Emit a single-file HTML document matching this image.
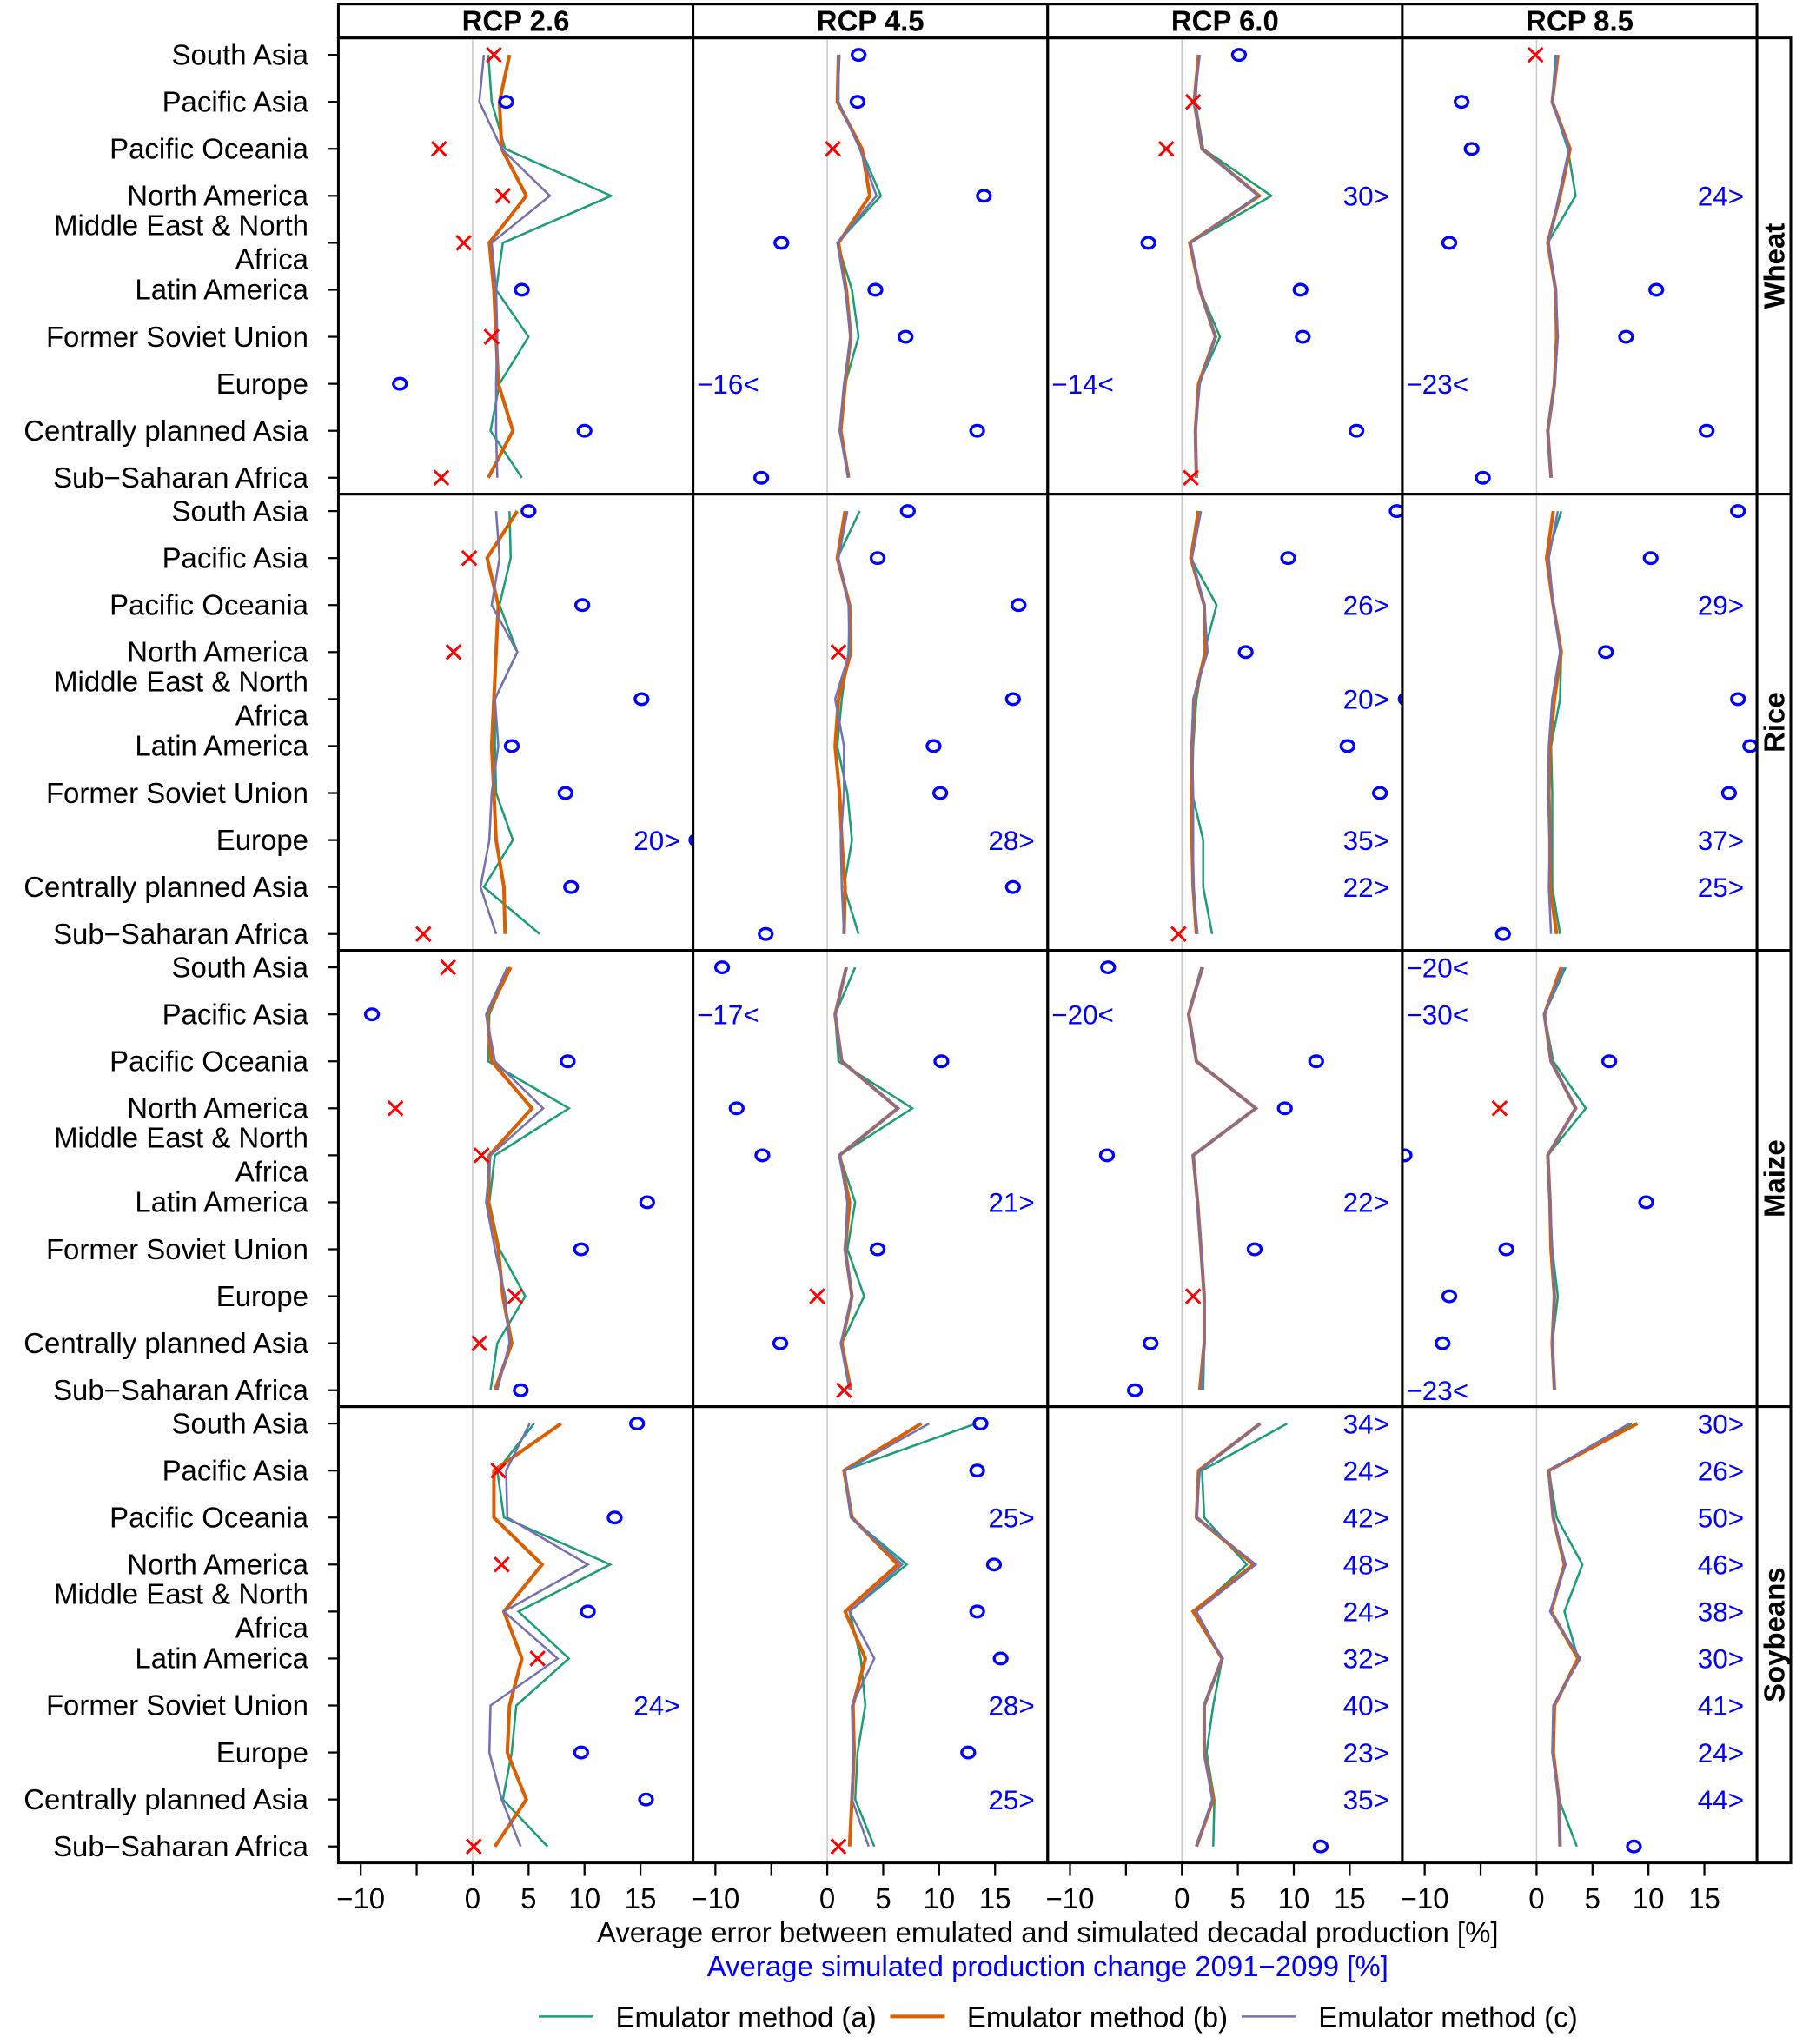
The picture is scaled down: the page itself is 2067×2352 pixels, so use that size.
<!DOCTYPE html>
<html><head><meta charset="utf-8">
<style>
html,body{margin:0;padding:0;background:#fff;}
svg{display:block;font-family:"Liberation Sans",Arial,sans-serif;}
</style></head>
<body>
<svg id="chart" xmlns="http://www.w3.org/2000/svg" width="2067" height="2352" viewBox="0 0 1380 1570">
<g id="root"></g>
</svg>
<script>
const categories = ["South Asia","Pacific Asia","Pacific Oceania","North America","Middle East & North Africa","Latin America","Former Soviet Union","Europe","Centrally planned Asia","Sub\u2212Saharan Africa"];
const crops = ["Wheat","Rice","Maize","Soybeans"];
const rcps = ["RCP 2.6","RCP 4.5","RCP 6.0","RCP 8.5"];
const xTicks = [-10,-5,0,5,10,15];
const xTickLabels = ["\u221210","","0","5","10","15"];

// seriesA/B/C[crop][rcp] = 10 values (error %)
const seriesA = [
 [[1.4,1.7,2.9,12.4,2.7,2.1,5,2.4,1.6,4.4],[1.1,0.9,3,4.8,0.9,2.2,2.8,1.6,1.2,1.9],[1.5,1.2,1.9,8,0.7,1.6,3.4,1.5,1.2,1.3],[1.7,1.4,2.8,3.5,1,1.7,1.9,1.6,1,1.3]],
 [[3.3,3.4,2.4,4,2,2,2.1,3.6,1,6],[2.9,0.9,2,1.9,1.3,0.9,1.8,2.2,1.5,2.8],[1.4,0.8,3.1,2,1.3,1,0.9,1.9,1.9,2.7],[2.2,0.9,1.5,2.2,2.1,1.3,1.4,1.4,1.4,2.1]],
 [[3.3,1.5,1.4,8.6,2,1.5,2.4,4.7,2.2,1.6],[2.5,0.7,1,7.6,1.1,2.5,1.8,3.3,1.3,2.1],[1.9,0.6,1.3,6.6,1,1.4,1.7,2,2,1.9],[2.6,0.7,1.5,4.4,1,1.2,1.4,1.9,1.4,1.6]],
 [[5.5,2.2,2.8,12.3,4.1,8.6,3.9,3.5,2.7,6.7],[13.3,1.5,2.1,7.1,2,3,3.4,2.7,2.5,4.2],[9.4,1.8,2,5.8,1.2,3.6,2.8,2.2,2.9,2.8],[8.5,1.1,1.8,4.1,2.5,3.7,1.6,1.5,2,3.6]]
];
const seriesB = [
 [[3.3,2.4,2.6,4.8,1.5,1.9,2.1,2.3,3.6,1.4],[1,0.9,3.1,3.8,1,1.7,2.1,1.6,1.2,1.9],[1.5,1.1,1.8,6.9,0.7,1.6,3,1.5,1.2,1.3],[1.9,1.4,3,2.1,1,1.7,1.8,1.6,1,1.3]],
 [[4,1.3,2.3,2.1,1.9,1.7,1.9,2.1,2.8,2.9],[1.6,0.9,2,2.1,1,0.7,1.1,1.3,1.6,1.5],[1.5,0.8,2,2.1,1.1,0.9,0.9,0.9,1,1.3],[1.5,0.9,1.5,2.2,1.6,1.2,1.1,1.2,1.2,1.8]],
 [[3.4,1.3,1.7,5.3,1.5,1.4,2.3,2.7,3.5,2],[1.7,0.7,1.3,6.3,1.1,2,1.6,2.2,1.3,2.1],[1.8,0.6,1.3,6.6,1,1.4,1.7,2,2,1.6],[2.2,0.7,1.3,3.5,1,1.2,1.3,1.6,1.4,1.6]],
 [[7.9,1.9,1.9,6.2,2.8,4.4,3.3,3.1,4.8,2],[8.4,1.5,2.2,6.3,1.6,3.4,2.3,2.4,2.2,2],[7,1.5,1.3,6.4,1,3.6,2,2,2.8,1.3],[9,1.1,1.5,2.5,1.3,3.7,1.6,1.5,2,2.1]]
];
const seriesC = [
 [[1,0.6,2.6,6.9,1.7,2.1,2.2,2.1,2.1,2.2],[1,1,2.9,4.4,0.9,1.6,2.1,1.5,1.1,1.9],[1.6,1.1,1.8,6.8,0.8,1.6,3,1.6,1.2,1.3],[1.8,1.4,2.9,2,1.1,1.7,1.9,1.6,1,1.3]],
 [[2.1,2.4,1.7,4,2,2.3,1.7,1.5,0.7,2.1],[1.8,1,1.9,2,0.7,1.5,1.5,1.2,1.3,1.5],[1.7,0.9,2,2.3,1,0.9,1,1,1,1.4],[1.9,1.1,1.5,2.1,1.4,1.1,1,1.2,1.1,1.3]],
 [[3.1,1.2,2,6.3,1.6,1.2,2,2.9,3.3,2.2],[1.7,0.7,1.3,6.3,1.1,1.8,1.6,2.2,1.2,2],[1.8,0.6,1.3,6.6,1,1.4,1.7,2,2,1.7],[2.4,0.7,1.3,3.5,1,1.2,1.4,1.6,1.4,1.6]],
 [[5.1,3,3.1,10.3,2.8,7.6,1.6,1.5,2.6,4.3],[9.1,1.6,2.1,6.7,2,4.2,2.2,2.3,2.2,3.7],[7,1.6,1.3,6.6,1.3,3.6,2,2,2.7,1.3],[8.3,1.1,1.5,2.6,1.2,3.9,1.5,1.4,2,2.1]]
];
// marker values (simulated production change) and type: o=circle, x=cross, gt=off-scale right, lt=off-scale left
const markerValues = [
 [[1.9,3,-3,2.7,-0.8,4.4,1.7,-6.5,10,-2.8],[2.8,2.7,0.5,14,-4.1,4.3,7,-16,13.4,-5.9],[5.1,1,-1.4,30,-3,10.6,10.8,-14,15.6,0.8],[-0.1,-6.7,-5.8,24,-7.8,10.7,8,-23,15.2,-4.8]],
 [[5,-0.3,9.8,-1.7,15.1,3.5,8.3,20,8.8,-4.4],[7.2,4.5,17.1,1,16.6,9.5,10.1,28,16.6,-5.5],[19.2,9.5,26,5.7,20,14.8,17.7,35,22,-0.3],[18,10.2,29,6.2,18,19.1,17.2,37,25,-3]],
 [[-2.2,-9,8.5,-6.9,0.8,15.6,9.7,3.8,0.6,4.3],[-9.4,-17,10.2,-8.1,-5.8,21,4.5,-0.9,-4.2,1.5],[-6.6,-20,12,9.2,-6.7,22,6.5,1,-2.8,-4.2],[-20,-30,6.5,-3.3,-11.8,9.8,-2.7,-7.8,-8.4,-23]],
 [[14.7,2.3,12.7,2.6,10.3,5.8,24,9.7,15.5,0.1],[13.7,13.4,25,14.9,13.4,15.5,28,12.6,25,1],[34,24,42,48,24,32,40,23,35,12.4],[30,26,50,46,38,30,41,24,44,8.7]]
];
const markerTypes = [
 [["x","o","x","x","x","o","x","o","o","x"],["o","o","x","o","o","o","o","lt","o","o"],["o","x","x","gt","o","o","o","lt","o","x"],["x","o","o","gt","o","o","o","lt","o","o"]],
 [["o","x","o","x","o","o","o","gt","o","x"],["o","o","o","x","o","o","o","gt","o","o"],["o","o","gt","o","gt","o","o","gt","gt","x"],["o","o","gt","o","o","o","o","gt","gt","o"]],
 [["x","o","o","x","x","o","o","x","x","o"],["o","lt","o","o","o","gt","o","x","o","x"],["o","lt","o","o","o","gt","o","x","o","o"],["lt","lt","o","x","o","o","o","o","o","lt"]],
 [["o","x","o","x","o","x","gt","o","o","x"],["o","o","gt","o","o","o","gt","o","gt","x"],["gt","gt","gt","gt","gt","gt","gt","gt","gt","o"],["gt","gt","gt","gt","gt","gt","gt","gt","gt","o"]]
];

const NS = "http://www.w3.org/2000/svg";
const root = document.getElementById("root");
function mk(tag, attrs, parent, text){
  const e = document.createElementNS(NS, tag);
  for (const k in attrs) e.setAttribute(k, attrs[k]);
  if (text !== undefined) e.textContent = text;
  (parent||root).appendChild(e);
  return e;
}
const L = 260, PW = 272.5, T = 29, PH = 350.5;
const XMIN = -12, XMAX = 19.7;
const FS = 22;
function xs(ci, v){ return L + ci*PW + (v - XMIN)/(XMAX - XMIN)*PW; }
function ys(ri, i){ return T + ri*PH + 13 + i*36.1; }
const COLORS = ["#1b9e77","#d95f02","#7570b3"];
const WIDTHS = [1.7,2.7,1.7];
const SERIES = [seriesA, seriesB, seriesC];
const SNAMES = ["emulator-a-line","emulator-b-line","emulator-c-line"];

const defs = mk("defs", {});
for (let r=0;r<4;r++) for (let c=0;c<4;c++){
  const cp = mk("clipPath", {id:"cp"+r+"_"+c}, defs);
  mk("rect", {x:L+c*PW, y:T+r*PH, width:PW, height:PH}, cp);
}

for (let c=0;c<4;c++){
  const g = mk("g", {});
  
  
  mk("rect", {x:L+c*PW, y:3, width:PW, height:26, fill:"#fff", stroke:"#000", "stroke-width":2}, g);
  mk("text", {x:L+c*PW+PW/2, y:23.5, "text-anchor":"middle", "font-size":FS, "font-weight":"bold"}, g, rcps[c]);
}
for (let r=0;r<4;r++){
  const g = mk("g", {});
  
  
  mk("rect", {x:L+4*PW, y:T+r*PH, width:26, height:PH, fill:"#fff", stroke:"#000", "stroke-width":2}, g);
  const cx = L+4*PW+21, cy = T+r*PH+PH/2;
  mk("text", {x:cx, y:cy, "text-anchor":"middle", "font-size":FS, "font-weight":"bold", transform:"rotate(-90 "+cx+" "+cy+")"}, g, crops[r]);
}

for (let r=0;r<4;r++){
  for (let c=0;c<4;c++){
    const g = mk("g", {});
    
    
    const clip = "url(#cp"+r+"_"+c+")";
    const zl = mk("line", {x1:xs(c,0), x2:xs(c,0), y1:T+r*PH, y2:T+(r+1)*PH, stroke:"#c8c8c8", "stroke-width":1}, g);
    
    
    for (let s=0;s<3;s++){
      const vals = SERIES[s][r][c];
      const pts = vals.map((v,i)=>xs(c,v).toFixed(1)+","+ys(r,i).toFixed(1)).join(" ");
      const pl = mk("polyline", {points:pts, fill:"none", stroke:COLORS[s], "stroke-width":WIDTHS[s], "stroke-linejoin":"miter", "clip-path":clip}, g);
      
      
    }
    for (let i=0;i<10;i++){
      const t = markerTypes[r][c][i], v = markerValues[r][c][i], y = ys(r,i);
      let m;
      if (t==="o" || (t==="gt" && v<=20.5)){
        m = mk("ellipse", {cx:xs(c,v), cy:y, rx:5, ry:4.2, fill:"none", stroke:"#0000ff", "stroke-width":2.2, "clip-path":clip}, g);
        
        
      }
      if (t==="x"){
        const X = xs(c,v);
        m = mk("path", {d:`M${X-5.5},${y-5.5}L${X+5.5},${y+5.5}M${X-5.5},${y+5.5}L${X+5.5},${y-5.5}`, stroke:"#ff0000", "stroke-width":2, fill:"none"}, g);
        
      } else if (t==="gt"){
        m = mk("text", {x:L+(c+1)*PW-10, y:y+7.5, "text-anchor":"end", "font-size":21, fill:"#0000ff"}, g, Math.round(v)+">");
        
      } else if (t==="lt"){
        m = mk("text", {x:L+c*PW+3, y:y+7.5, "text-anchor":"start", "font-size":21, fill:"#0000ff"}, g, "\u2212"+Math.abs(Math.round(v))+"<");
        
      }
      
    }
    const fr = mk("rect", {x:L+c*PW, y:T+r*PH, width:PW, height:PH, fill:"none", stroke:"#000", "stroke-width":2}, g);
    
    
  }
  for (let i=0;i<10;i++){
    const y = ys(r,i);
    mk("line", {x1:L-8, x2:L, y1:y, y2:y, stroke:"#000", "stroke-width":1.5});
    let lab;
    if (i===4){
      lab = mk("text", {x:L-23, y:y-6, "text-anchor":"end", "font-size":FS});
      mk("tspan", {x:L-23, dy:0}, lab, "Middle East & North");
      mk("tspan", {x:L-23, dy:26}, lab, "Africa");
    } else {
      lab = mk("text", {x:L-23, y:y+7.5, "text-anchor":"end", "font-size":FS}, root, categories[i]);
    }
    
    
  }
}
const axisY = T + 4*PH;
for (let c=0;c<4;c++){
  xTicks.forEach((t,k)=>{
    const X = xs(c,t);
    mk("line", {x1:X, x2:X, y1:axisY, y2:axisY+10, stroke:"#000", "stroke-width":1.5});
    if (xTickLabels[k]){
      const tl = mk("text", {x:X, y:axisY+35, "text-anchor":"middle", "font-size":FS}, root, xTickLabels[k]);
      
      
    }
  });
}
const xt = mk("text", {x:805, y:1492, "text-anchor":"middle", "font-size":FS}, root, "Average error between emulated and simulated decadal production [%]");


const xt2 = mk("text", {x:805, y:1518, "text-anchor":"middle", "font-size":FS, fill:"#0000ff"}, root, "Average simulated production change 2091\u22122099 [%]");


const legNames = ["Emulator method (a)","Emulator method (b)","Emulator method (c)"];
const legX = [414,684,954];
for (let s=0;s<3;s++){
  const g = mk("g", {});
  
  
  mk("line", {x1:legX[s], x2:legX[s]+42, y1:1549, y2:1549, stroke:COLORS[s], "stroke-width":WIDTHS[s]}, g);
  mk("text", {x:legX[s]+59, y:1557, "font-size":FS}, g, legNames[s]);
}
</script>
</body></html>
